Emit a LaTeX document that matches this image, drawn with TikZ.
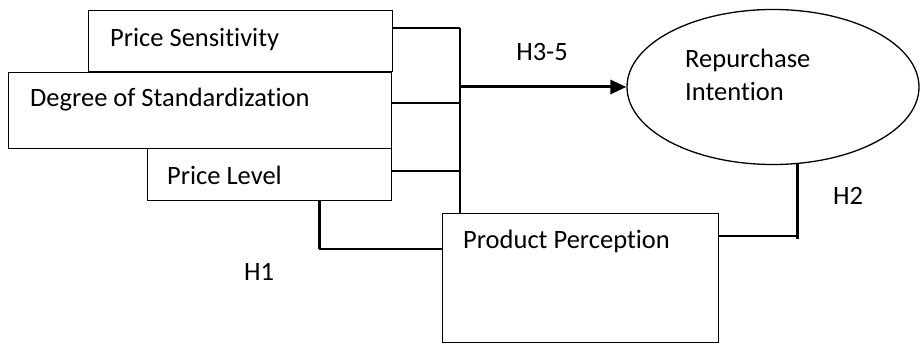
\documentclass[tikz,border=0pt]{standalone}
\usepackage{fontspec}
\setmainfont{Carlito}[Ligatures={NoCommon}]
\usetikzlibrary{shapes.geometric,arrows.meta,calc}
\begin{document}
\begin{tikzpicture}[x=1pt,y=-1pt,
  box/.style={draw,fill=white,line width=1.3pt,inner sep=0pt,anchor=north west},
  txt/.style={font=\fontsize{26.5}{33}\selectfont,inner sep=0pt},
  thin/.style={line width=1.3pt},
  thick/.style={line width=3pt}]
\useasboundingbox (0,0) rectangle (920,344);

% construct boxes
\node[box,minimum width=304pt,minimum height=61pt] (ps) at (88,10) {};
\node[box,minimum width=383pt,minimum height=76pt] (deg) at (8,72) {};
\node[box,minimum width=244pt,minimum height=52pt] (pl) at (147,148) {};
\node[box,minimum width=276pt,minimum height=129pt] (pp) at (442,213) {};
\node[draw,ellipse,line width=1.3pt,minimum width=292pt,minimum height=155pt,inner sep=0pt] (ri) at (773,87) {};

% box texts
\node[txt,anchor=west] (tps) at (110,40) {Price Sensitivity};
\node[txt,anchor=west] (tdeg) at (30,100) {Degree of Standardization};
\node[txt,anchor=west] (tpl) at (167,175) {Price Level};
\node[txt,anchor=west] (tpp) at (463,241) {Product Perception};
\node[txt,anchor=west,align=left] (tri) at (685,75) {Repurchase\\Intention};

% hypothesis labels
\node[txt] (h1) at (259,272) {H1};
\node[txt] (h35) at (542,52) {H3-5};
\node[txt] (h2) at (848,196) {H2};

% joining bus
\coordinate (b1) at (460,28);
\coordinate (b0) at (460,87);
\coordinate (b2) at (460,103);
\coordinate (b3) at (460,171);
\draw[thin] (b1) -- (pp.north -| b1);
\draw[thin] (b1 -| ps.east) -- (b1);
\draw[thin] (b2 -| deg.east) -- (b2);
\draw[thin] (b3 -| pl.east) -- (b3);
\draw[thick,-{Triangle[length=16pt,width=14pt]}] (b0) -- (ri.west);

% H2 link
\coordinate (h2t) at (797,163);
\coordinate (h2j) at (797,236);
\draw[thick] (h2t) -- ($(h2j)+(0,3)$);
\draw[thin] (h2j -| pp.east) -- (h2j);

% H1 link
\coordinate (h1c) at (319,249);
\draw[thick] (pl.south -| h1c) -- (h1c);
\draw[thin] (h1c) -- (h1c -| pp.west);
\end{tikzpicture}
\end{document}
